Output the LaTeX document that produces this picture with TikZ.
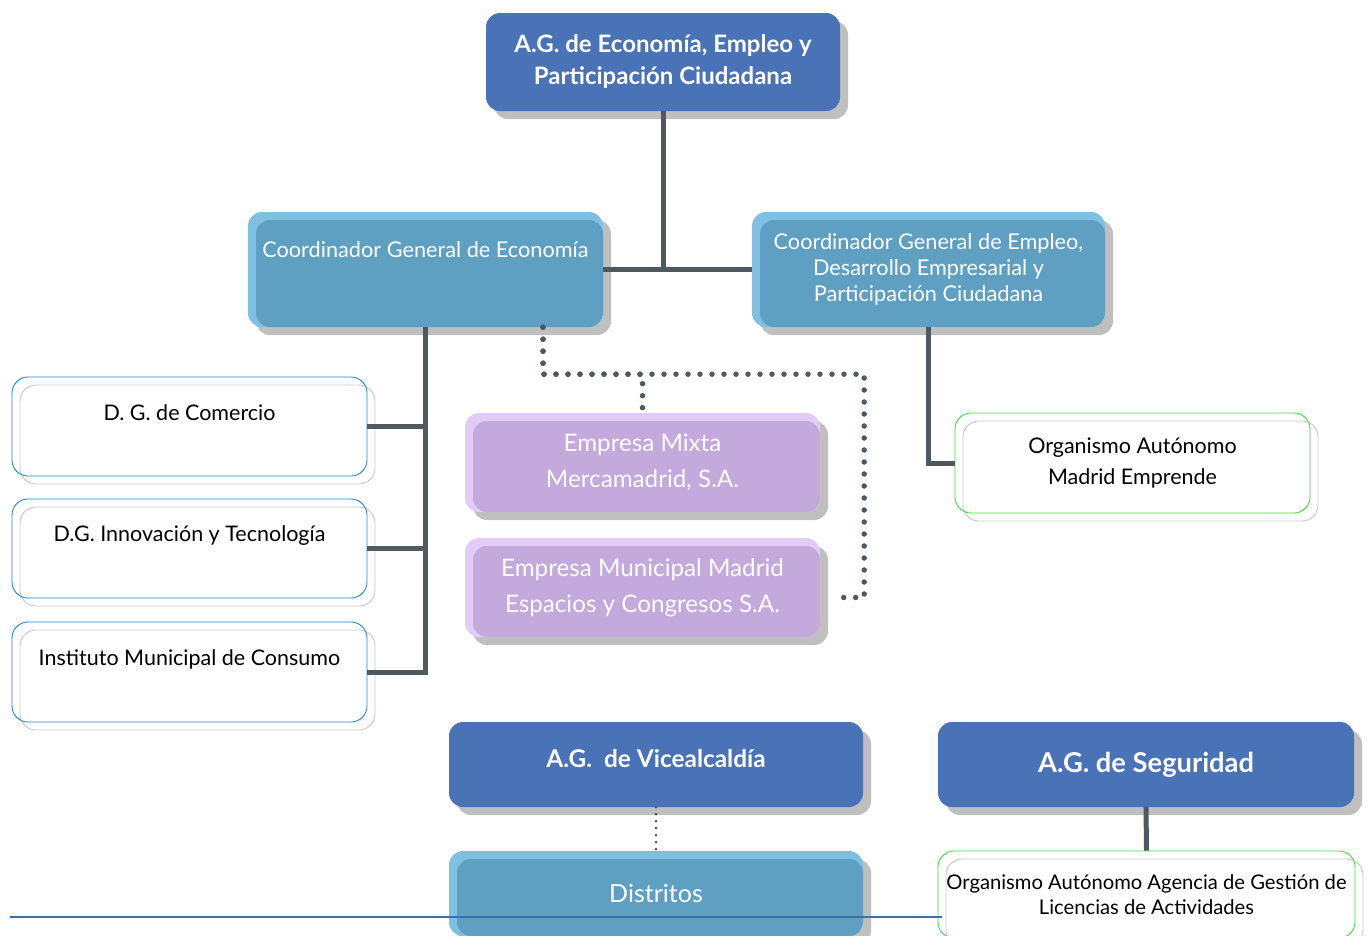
\documentclass[tikz,border=0pt]{standalone}
\usepackage{fontspec}
\setmainfont{Lato}
\usetikzlibrary{calc,positioning,shadows}

\definecolor{agblue}{HTML}{4A72B6}
\definecolor{coordlight}{HTML}{7FBFE1}
\definecolor{coorddark}{HTML}{5FA0C2}
\definecolor{emplight}{HTML}{E3CBF8}
\definecolor{empdark}{HTML}{C4A9DC}
\definecolor{shadowgray}{HTML}{BFBFBF}
\definecolor{linkgray}{HTML}{4E5A5D}
\definecolor{outblue}{HTML}{1E88D0}
\definecolor{outgreen}{HTML}{3CE03C}
\definecolor{outgray}{HTML}{C8C8C8}
\definecolor{ruleblue}{HTML}{3C6EAF}

\begin{document}
\begin{tikzpicture}[x=1pt,y=-1pt,
  boxshadow/.style={general shadow={fill=shadowgray, shadow xshift=8pt, shadow yshift=-8pt}},
  agbox/.style={fill=agblue, rounded corners=14pt, text=white, align=center, boxshadow,
    font=\fontsize{24}{32}\selectfont\bfseries},
  twotone/.style={fill=#1light, rounded corners=14pt, text=white, align=center, boxshadow,
    font=\fontsize{21.7}{26}\selectfont,
    path picture={\fill[#1dark, rounded corners=14pt]
      ([xshift=8pt,yshift=-8pt]path picture bounding box.north west)
      rectangle (path picture bounding box.south east);}},
  unitbox/.style={draw=#1, line width=0.9pt, rounded corners=16pt, align=center,
    font=\fontsize{21.5}{31}\selectfont,
    general shadow={draw=outgray, line width=0.9pt, shadow xshift=8pt, shadow yshift=-8pt}},
  link/.style={linkgray, line width=5pt},
  dots/.style={linkgray, line width=5.5pt, line cap=round, dash pattern=on 0pt off 12pt},
  finedots/.style={linkgray, line width=3pt, line cap=round, dash pattern=on 0pt off 7pt}]
  \clip (0,0) rectangle (1368,935);

  % area de gobierno y coordinaciones
  \node[agbox, minimum width=354pt, minimum height=98pt] (ecoag) at (663,62)
    {A.G. de Economía, Empleo y\\Participación Ciudadana};
  \node[twotone=coord, minimum width=355pt, minimum height=115pt, text depth=40pt] (coordeco) at (425.5,269.5)
    {Coordinador General de Economía};
  \node[twotone=coord, minimum width=353pt, minimum height=115pt] (coordemp) at (928.5,269.5)
    {Coordinador General de Empleo,\\Desarrollo Empresarial y\\Participación Ciudadana};

  % direcciones generales
  \node[unitbox=outblue, minimum width=355pt, minimum height=99pt, text depth=28pt] (dgcom) at (189.5,426.5)
    {D. G. de Comercio};
  \node[unitbox=outblue, minimum width=355pt, minimum height=99pt, text depth=30pt] (dginn) at (189.5,548.5)
    {D.G. Innovación y Tecnología};
  \node[unitbox=outblue, minimum width=355pt, minimum height=100pt, text depth=28pt] (imc) at (189.5,672)
    {Instituto Municipal de Consumo};

  % empresas
  \node[twotone=emp, minimum width=355pt, minimum height=99pt, font=\fontsize{24.2}{36}\selectfont] (mixta) at (642.5,462.5)
    {Empresa Mixta\\Mercamadrid, S.A.};
  \node[twotone=emp, minimum width=355pt, minimum height=99pt, font=\fontsize{24.2}{36}\selectfont] (espacios) at (642.5,587.5)
    {Empresa Municipal Madrid\\Espacios y Congresos S.A.};
  \coordinate (espend) at ($(espacios.east)+(18,10)$);

  \node[unitbox=outgreen, minimum width=355pt, minimum height=100pt] (emprende) at (1132.5,463)
    {Organismo Autónomo\\Madrid Emprende};

  % otras areas
  \node[agbox, minimum width=414pt, minimum height=85pt, text depth=12pt, font=\fontsize{24.4}{28}\selectfont\bfseries] (vice) at (656,764.5)
    {A.G.\ \ de Vicealcaldía};
  \node[twotone=coord, minimum width=414pt, minimum height=85pt, font=\fontsize{25}{30}\selectfont] (distr) at (656,893.5)
    {Distritos};
  \node[agbox, minimum width=416pt, minimum height=85pt, font=\fontsize{27.3}{30}\selectfont\bfseries] (seg) at (1146,764.5)
    {A.G. de Seguridad};
  \node[unitbox=outgreen, minimum width=417pt, minimum height=87pt, font=\fontsize{20.2}{25}\selectfont] (agencia) at (1146.5,894.5)
    {Organismo Autónomo Agencia de Gestión de\\Licencias de Actividades};

  % conectores
  \draw[link] (ecoag.south) -- (ecoag.south |- coordeco.east);
  \draw[link] (coordeco.east) -- (coordemp.west);
  \draw[link] (coordeco.south) |- (imc.east);
  \draw[link] (dgcom.east) -- (dgcom.east -| coordeco.south);
  \draw[link] (dginn.east) -- (dginn.east -| coordeco.south);
  \draw[link] (coordemp.south) |- (emprende.west);
  \draw[link] (seg.south) -- (agencia.north);
  \coordinate (dotstart) at ($(coordeco.south)+(117.5,0)$);
  \draw[dots] (dotstart) -- ++(0,47) -| (mixta.north);
  \draw[dots] (dotstart) -- ++(0,47) -| ($(espend)+(26,0)$) -- (espend);
  \draw[finedots] (vice.south) -- (distr.north);

  \draw[ruleblue, line width=2pt] (10,917) -- (942,917);
\end{tikzpicture}
\end{document}
